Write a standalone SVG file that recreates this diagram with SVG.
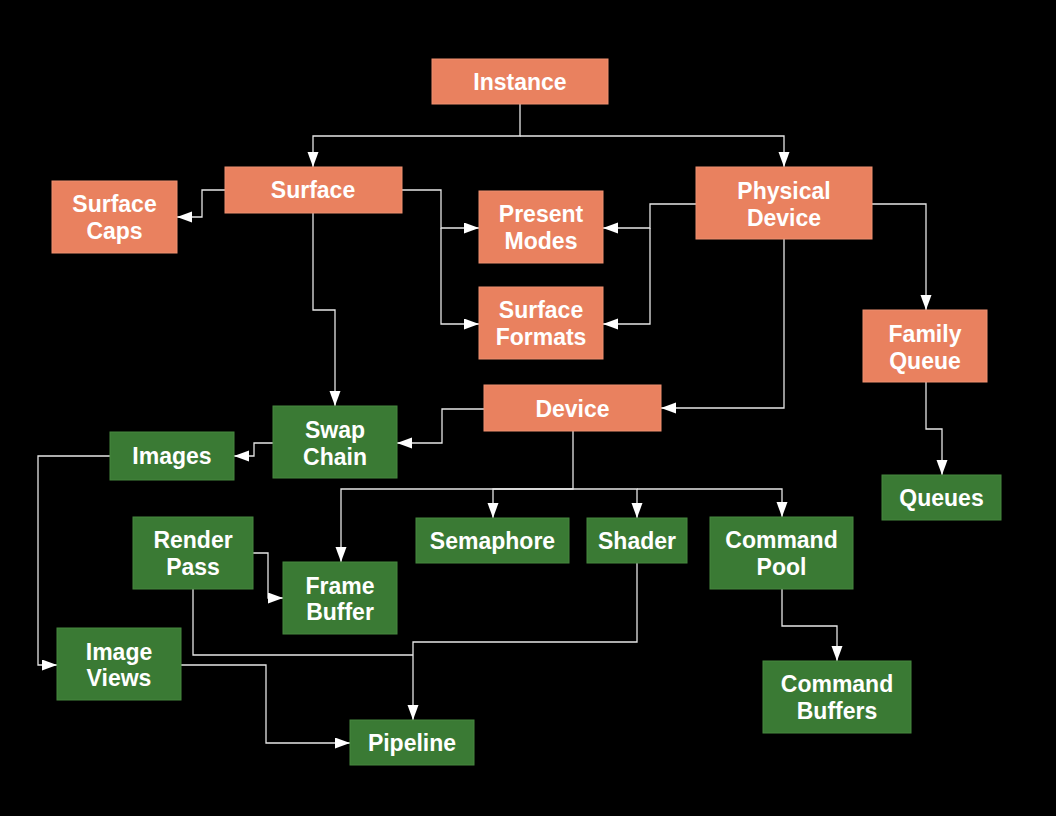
<svg xmlns="http://www.w3.org/2000/svg" width="1056" height="816" viewBox="0 0 1056 816">
<defs>
<style>
.o{fill:#E9815F;stroke:#EE9070;stroke-width:1}
.g{fill:#3A7A34;stroke:#46873F;stroke-width:1}
text{font-family:"Liberation Sans",Arial,sans-serif;font-weight:bold;font-size:23px;fill:#fff;text-anchor:middle}
.c path{fill:none;stroke:#e6e6e6;stroke-width:1.3}
.c path.a{marker-end:url(#arr)}
</style>
<marker id="arr" markerWidth="16" markerHeight="12" refX="15" refY="5.5" orient="auto" markerUnits="userSpaceOnUse">
<path d="M0,0 L15,5.5 L0,11 z" fill="#fff"/>
</marker>
</defs>
<rect width="1056" height="816" fill="#000"/>
<g class="c" id="connectors">
<path class="a" d="M520,104 V136 H313 V167"/>
<path class="a" d="M520,136 H784 V167"/>
<path class="a" d="M225,190 H202 V217 H177"/>
<path class="a" d="M402,190 H441 V228 H479"/>
<path class="a" d="M441,228 V324 H479"/>
<path class="a" d="M313,213 V310 H335 V406"/>
<path class="a" d="M696,204 H650 V228 H603"/>
<path class="a" d="M650,228 V324 H603"/>
<path class="a" d="M784,239 V408 H661"/>
<path class="a" d="M872,204 H926 V310"/>
<path class="a" d="M926,382 V429 H942 V475"/>
<path class="a" d="M484,409 H442 V443 H397"/>
<path class="a" d="M573,431 V489 H341 V562"/>
<path class="a" d="M573,489 H493 V518"/>
<path class="a" d="M573,489 H637 V518"/>
<path class="a" d="M637,489 H782 V517"/>
<path class="a" d="M273,443 H254 V456 H234"/>
<path class="a" d="M110,456 H38 V665 H57"/>
<path class="a" d="M253,553 H268 V598 H283"/>
<path d="M193,589 V655 H413"/>
<path class="a" d="M637,563 V642 H413 V720"/>
<path class="a" d="M181,665 H266 V743 H350"/>
<path class="a" d="M782,589 V626 H837 V661"/>
</g>
<g id="instance"><rect class="o" x="432" y="59" width="176" height="45"/><text x="520" y="90">Instance</text></g>
<g id="surface"><rect class="o" x="225" y="167" width="177" height="46"/><text x="313" y="198">Surface</text></g>
<g id="surface-caps"><rect class="o" x="52" y="181" width="125" height="72"/><text x="114.5" y="212">Surface</text><text x="114.5" y="239">Caps</text></g>
<g id="present-modes"><rect class="o" x="479" y="191" width="124" height="72"/><text x="541" y="222">Present</text><text x="541" y="249">Modes</text></g>
<g id="surface-formats"><rect class="o" x="479" y="287" width="124" height="72"/><text x="541" y="318">Surface</text><text x="541" y="345">Formats</text></g>
<g id="physical-device"><rect class="o" x="696" y="167" width="176" height="72"/><text x="784" y="199">Physical</text><text x="784" y="226">Device</text></g>
<g id="family-queue"><rect class="o" x="863" y="310" width="124" height="72"/><text x="925" y="342">Family</text><text x="925" y="369">Queue</text></g>
<g id="device"><rect class="o" x="484" y="385" width="177" height="46"/><text x="572.5" y="417">Device</text></g>
<g id="swap-chain"><rect class="g" x="273" y="406" width="124" height="72"/><text x="335" y="438">Swap</text><text x="335" y="465">Chain</text></g>
<g id="images"><rect class="g" x="110" y="432" width="124" height="48"/><text x="172" y="464">Images</text></g>
<g id="queues"><rect class="g" x="882" y="475" width="119" height="45"/><text x="941.5" y="506">Queues</text></g>
<g id="semaphore"><rect class="g" x="416" y="518" width="153" height="45"/><text x="492.5" y="549">Semaphore</text></g>
<g id="shader"><rect class="g" x="587" y="518" width="100" height="45"/><text x="637" y="549">Shader</text></g>
<g id="command-pool"><rect class="g" x="710" y="517" width="143" height="72"/><text x="781.5" y="548">Command</text><text x="781.5" y="575">Pool</text></g>
<g id="render-pass"><rect class="g" x="133" y="517" width="120" height="72"/><text x="193" y="548">Render</text><text x="193" y="575">Pass</text></g>
<g id="frame-buffer"><rect class="g" x="283" y="562" width="114" height="72"/><text x="340" y="594">Frame</text><text x="340" y="620">Buffer</text></g>
<g id="image-views"><rect class="g" x="57" y="628" width="124" height="72"/><text x="119" y="660">Image</text><text x="119" y="686">Views</text></g>
<g id="command-buffers"><rect class="g" x="763" y="661" width="148" height="72"/><text x="837" y="692">Command</text><text x="837" y="719">Buffers</text></g>
<g id="pipeline"><rect class="g" x="350" y="720" width="124" height="45"/><text x="412" y="751">Pipeline</text></g>
</svg>
